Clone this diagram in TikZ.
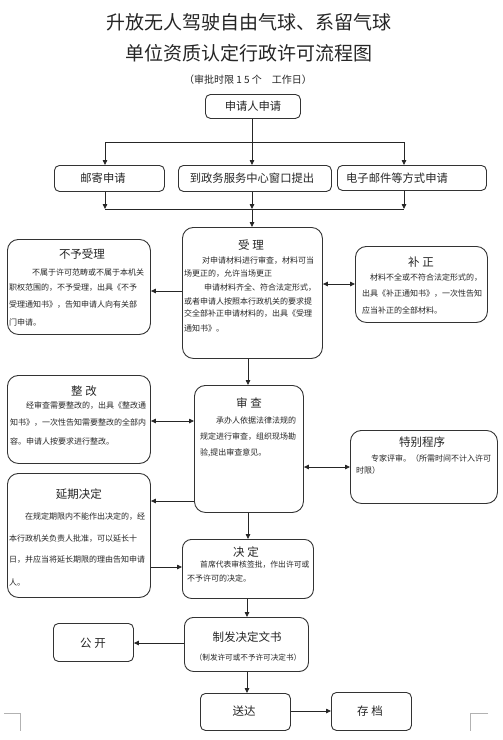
\documentclass[tikz,border=0pt]{standalone}
\usepackage{fontspec}
\setmainfont{Noto Sans CJK SC}
\usetikzlibrary{arrows.meta}
\begin{document}
\begin{tikzpicture}[x=1pt,y=-1pt,
 box/.style={draw=black!80,line width=0.9pt,rounded corners=11pt,inner sep=0,anchor=north west},
 sbox/.style={draw=black!80,line width=0.9pt,rounded corners=5pt,inner sep=0,anchor=north west},
 arr/.style={-{Triangle[length=5pt,width=4.5pt]},line width=0.8pt,draw=black!85},
 darr/.style={{Triangle[length=5pt,width=4.5pt]}-{Triangle[length=5pt,width=4.5pt]},line width=0.8pt,draw=black!85},
 ln/.style={line width=0.8pt,draw=black!85},
 body/.style={anchor=west,inner sep=0,font=\fontsize{8}{8}\selectfont,text=black!85},
 ttl/.style={inner sep=0,font=\fontsize{11.5}{11.5}\selectfont,text=black!85},
 rowt/.style={inner sep=0,font=\fontsize{11.3}{11.3}\selectfont,text=black!85},
 cornermark/.style={draw=black!30,line width=0.6pt}
]
\useasboundingbox (0,0) rectangle (503,740);
\fill[white] (0,0) rectangle (503,740);

% titles
\node[inner sep=0,font=\fontsize{19}{19}\selectfont,text=black!85] (t1) at (249,22) {升放无人驾驶自由气球、系留气球};
\node[inner sep=0,font=\fontsize{19}{19}\selectfont,text=black!85] (t2) at (249,53) {单位资质认定行政许可流程图};
\node[inner sep=0,font=\fontsize{10}{10}\selectfont,text=black!85] (t3) at (248,80) {（审批时限 1 5 个\quad 工作日）};

% boxes
\node[sbox,minimum width=95pt,minimum height=24pt] (apply) at (205,94) {};
\node[rowt] (applyt) at (253,106) {申请人申请};
\node[sbox,minimum width=110pt,minimum height=26pt] (mail) at (54,165) {};
\node[rowt] (mailt) at (103,178) {邮寄申请};
\node[sbox,minimum width=153pt,minimum height=26pt] (window) at (178,165) {};
\node[rowt] (windowt) at (252,178) {到政务服务中心窗口提出};
\node[sbox,minimum width=149pt,minimum height=25pt] (email) at (337,165) {};
\node[rowt] (emailt) at (397,178) {电子邮件等方式申请};

% 受理
\node[box,minimum width=140pt,minimum height=131pt] (shouli) at (182,227) {};
\node[ttl] (shoulit) at (251,245) {受\ 理};
\node[body] (sl1) at (202,261) {对申请材料进行审查，材料可当};
\node[body] (sl2) at (184,274) {场更正的，允许当场更正};
\node[body] (sl3) at (204,288) {申请材料齐全、符合法定形式，};
\node[body] (sl4) at (184,301) {或者申请人按照本行政机关的要求提};
\node[body] (sl5) at (184,314) {交全部补正申请材料的，出具《受理};
\node[body] (sl6) at (184,328) {通知书》。};

% 不予受理
\node[box,minimum width=143pt,minimum height=95pt] (buyu) at (7,239) {};
\node[ttl] (buyut) at (82,254) {不予受理};
\node[body] (by1) at (32,272) {不属于许可范畴或不属于本机关};
\node[body] (by2) at (9,288) {职权范围的，不予受理，出具《不予};
\node[body] (by3) at (9,305) {受理通知书》，告知申请人向有关部};
\node[body] (by4) at (9,322) {门申请。};

% 补正
\node[box,minimum width=132pt,minimum height=76pt] (buzheng) at (355,246) {};
\node[ttl] (buzhengt) at (421,262) {补\ 正};
\node[body] (bz1) at (370,278) {材料不全或不符合法定形式的，};
\node[body] (bz2) at (362,294) {出具《补正通知书》，一次性告知};
\node[body] (bz3) at (362,310) {应当补正的全部材料。};

% 整改
\node[box,minimum width=143pt,minimum height=88pt] (zhenggai) at (7,375) {};
\node[ttl] (zhenggait) at (84,391) {整\ 改};
\node[body] (zg1) at (26,406) {经审查需要整改的，出具《整改通};
\node[body] (zg2) at (10,423) {知书》，一次性告知需要整改的全部内};
\node[body] (zg3) at (10,441) {容。申请人按要求进行整改。};

% 审查
\node[box,minimum width=109pt,minimum height=127pt] (shencha) at (194,385) {};
\node[ttl] (shenchat) at (249,403) {审\ 查};
\node[body] (sc1) at (216,420) {承办人依据法律法规的};
\node[body] (sc2) at (200,437) {规定进行审查，组织现场勘};
\node[body] (sc3) at (200,453) {验,提出审查意见。};

% 特别程序
\node[box,minimum width=147pt,minimum height=73pt] (tebie) at (350,430) {};
\node[ttl] (tebiet) at (422,442) {特别程序};
\node[body] (tb1) at (371,458) {专家评审。（所需时间不计入许可};
\node[body] (tb2) at (356,470) {时限）};

% 延期决定
\node[box,minimum width=143pt,minimum height=124pt] (yanqi) at (7,473) {};
\node[ttl] (yanqit) at (79,494) {延期决定};
\node[body] (yq1) at (25,517) {在规定期限内不能作出决定的，经};
\node[body] (yq2) at (9,539) {本行政机关负责人批准，可以延长十};
\node[body] (yq3) at (9,560) {日，并应当将延长期限的理由告知申请};
\node[body] (yq4) at (9,582) {人。};

% 决定
\node[box,rounded corners=9pt,minimum width=131pt,minimum height=59pt] (jueding) at (182,539) {};
\node[ttl] (juedingt) at (246,552) {决\ 定};
\node[body,font=\fontsize{7.8}{7.8}\selectfont] (jd1) at (200,565) {首席代表审核签批，作出许可或};
\node[body] (jd2) at (187,578) {不予许可的决定。};

% 制发决定文书
\node[box,rounded corners=9pt,minimum width=124pt,minimum height=54pt] (zhifa) at (184,617) {};
\node[ttl] (zhifat) at (247,637) {制发决定文书};
\node[inner sep=0,font=\fontsize{7.6}{7.6}\selectfont,text=black!85] (zhifas) at (248,658) {（制发许可或不予许可决定书）};

\node[sbox,minimum width=80pt,minimum height=38pt] (gongkai) at (53,623) {};
\node[ttl] (gongkait) at (93,643) {公\ 开};
\node[sbox,minimum width=90pt,minimum height=37pt] (songda) at (200,693) {};
\node[ttl] (songdat) at (244,711) {送达};
\node[sbox,minimum width=80pt,minimum height=38pt] (cundang) at (331,692) {};
\node[ttl] (cundangt) at (370,711) {存\ 档};

% connectors
\coordinate (j0) at (252,142);
\coordinate (jl) at (105,142);
\coordinate (jr) at (404,142);
\draw[ln] (apply.south -| j0) -- (j0);
\draw[ln] (jl) -- (jr);
\draw[arr] (jl) -- (mail.north -| jl);
\draw[arr] (j0) -- (window.north -| j0);
\draw[arr] (jr) -- (email.north -| jr);

\coordinate (k0) at (252,209);
\coordinate (kl) at (105,209);
\coordinate (kr) at (404,209);
\draw[ln] (kl) -- (kr);
\draw[arr] (mail.south -| kl) -- (kl);
\draw[arr] (window.south -| k0) -- (k0);
\draw[arr] (email.south -| kr) -- (kr);
\draw[arr] (k0) -- (shouli.north -| k0);

\draw[arr] (shouli.west |- 0,291) -- (buyu.east |- 0,291);
\draw[darr] (shouli.east |- 0,284) -- (buzheng.west |- 0,284);
\draw[arr] (shouli.south -| 248,0) -- (shencha.north -| 248,0);
\draw[darr] (zhenggai.east |- 0,421) -- (shencha.west |- 0,421);
\draw[darr] (shencha.east |- 0,467) -- (tebie.west |- 0,467);
\draw[arr] (shencha.west |- 0,501) -- (yanqi.east |- 0,501);
\draw[arr] (yanqi.east |- 0,567) -- (jueding.west |- 0,567);
\draw[arr] (shencha.south -| 248,0) -- (jueding.north -| 248,0);
\draw[arr] (jueding.south -| 247,0) -- (zhifa.north -| 247,0);
\draw[arr] (zhifa.west |- 0,643) -- (gongkai.east |- 0,643);
\draw[arr] (zhifa.south -| 247,0) -- (songda.north -| 247,0);
\draw[arr] (songda.east |- 0,711) -- (cundang.west |- 0,711);

% page corner marks
\draw[cornermark] (4,713) -- (20,713) -- (20,731);
\draw[cornermark] (488,713) -- (470,713) -- (470,731);
\end{tikzpicture}
\end{document}
